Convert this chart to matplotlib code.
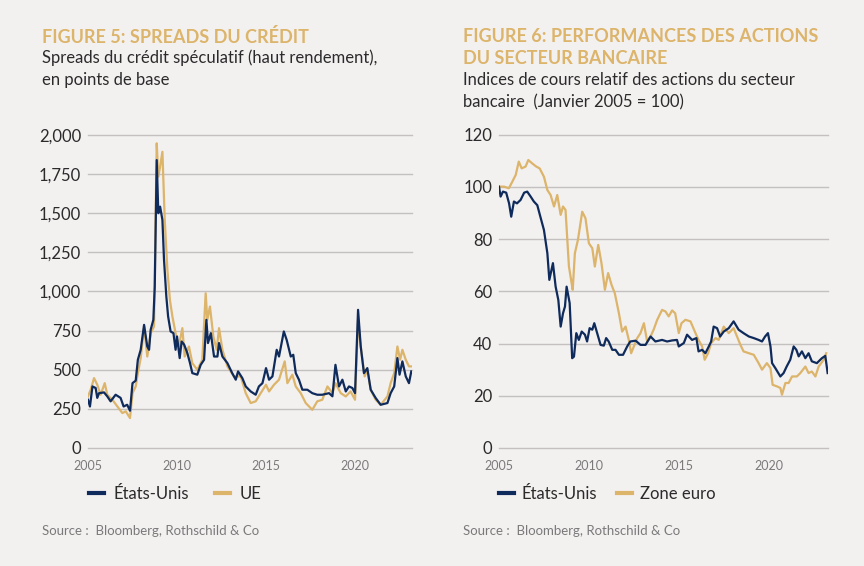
import numpy as np
import matplotlib
matplotlib.use("Agg")
import matplotlib.pyplot as plt
from matplotlib.lines import Line2D

# --- Figure 5 : spreads du crédit (points de base) ---
us_spread_t = [2005.0, 2005.11, 2005.25, 2005.43, 2005.52, 2005.62, 2005.9, 2006.08, 2006.27,
               2006.55, 2006.83, 2007.0, 2007.2, 2007.36, 2007.5, 2007.68, 2007.8, 2007.96,
               2008.15, 2008.33, 2008.43, 2008.52, 2008.67, 2008.75, 2008.86, 2008.95, 2009.05,
               2009.18, 2009.27, 2009.4, 2009.5, 2009.64, 2009.8, 2009.92, 2010.0, 2010.15,
               2010.26, 2010.4, 2010.58, 2010.73, 2010.86, 2011.14, 2011.33, 2011.52, 2011.65,
               2011.74, 2011.9, 2012.08, 2012.27, 2012.36, 2012.55, 2012.83, 2013.1, 2013.3,
               2013.43, 2013.67, 2013.86, 2014.14, 2014.42, 2014.6, 2014.8, 2015.0, 2015.17,
               2015.36, 2015.6, 2015.73, 2016.0, 2016.16, 2016.39, 2016.53, 2016.67, 2016.85,
               2017.04, 2017.32, 2017.6, 2017.88, 2018.16, 2018.54, 2018.73, 2018.9, 2019.1,
               2019.29, 2019.48, 2019.66, 2019.85, 2020.0, 2020.17, 2020.32, 2020.5, 2020.69,
               2020.88, 2021.16, 2021.44, 2021.82, 2022.0, 2022.2, 2022.38, 2022.5, 2022.66,
               2022.85, 2023.03, 2023.16]
us_spread = [308, 265, 393, 383, 320, 350, 355, 330, 298,
             340, 320, 265, 276, 238, 414, 430, 563, 627,
             786, 648, 627, 755, 818, 1031, 1838, 1499, 1541,
             1456, 1201, 967, 840, 744, 733, 627, 712, 574,
             680, 660, 606, 542, 478, 468, 531, 563, 818,
             670, 733, 584, 584, 670, 584, 542, 478, 436,
             489, 446, 393, 361, 340, 393, 414, 510, 436,
             457, 627, 584, 744, 690, 584, 595, 478, 436,
             372, 372, 350, 340, 340, 350, 330, 531, 393,
             436, 361, 393, 383, 350, 882, 648, 478, 510,
             372, 319, 276, 287, 350, 393, 574, 468, 553,
             457, 414, 489]

ue_spread_t = [2005.0, 2005.15, 2005.34, 2005.52, 2005.71, 2005.94, 2006.08, 2006.37, 2006.65,
               2006.93, 2007.12, 2007.36, 2007.5, 2007.68, 2007.8, 2007.96, 2008.15, 2008.33,
               2008.52, 2008.71, 2008.86, 2008.95, 2009.05, 2009.18, 2009.31, 2009.46, 2009.6,
               2009.74, 2009.92, 2010.1, 2010.3, 2010.43, 2010.67, 2010.86, 2011.14, 2011.42,
               2011.61, 2011.7, 2011.85, 2012.04, 2012.23, 2012.36, 2012.55, 2012.83, 2013.2,
               2013.58, 2013.86, 2014.14, 2014.42, 2014.7, 2015.0, 2015.17, 2015.45, 2015.73,
               2016.05, 2016.2, 2016.48, 2016.67, 2016.95, 2017.23, 2017.6, 2017.88, 2018.16,
               2018.45, 2018.73, 2018.9, 2019.2, 2019.48, 2019.75, 2020.0, 2020.17, 2020.32,
               2020.54, 2020.69, 2020.88, 2021.16, 2021.44, 2021.82, 2022.0, 2022.2, 2022.38,
               2022.53, 2022.66, 2022.85, 2023.03, 2023.16]
ue_spread = [329, 372, 446, 404, 340, 414, 340, 308, 265,
             223, 234, 191, 350, 393, 478, 574, 776, 584,
             733, 776, 1945, 1732, 1796, 1891, 1456, 1137, 946,
             840, 733, 648, 765, 584, 648, 542, 499, 563,
             988, 818, 903, 712, 627, 765, 627, 521, 457,
             457, 350, 287, 298, 350, 404, 361, 404, 436,
             553, 414, 468, 393, 350, 287, 244, 298, 308,
             393, 350, 414, 350, 329, 361, 308, 818, 648,
             457, 499, 372, 308, 276, 329, 414, 478, 648,
             563, 627, 563, 521, 521]

# --- Figure 6 : actions du secteur bancaire (janvier 2005 = 100) ---
us_bank_t = [2005.0, 2005.09, 2005.22, 2005.4, 2005.56, 2005.68, 2005.83, 2006.0, 2006.2,
             2006.4, 2006.57, 2006.76, 2006.94, 2007.13, 2007.3, 2007.5, 2007.69, 2007.8,
             2008.0, 2008.15, 2008.3, 2008.43, 2008.56, 2008.67, 2008.76, 2008.93, 2009.07,
             2009.17, 2009.3, 2009.44, 2009.6, 2009.78, 2009.9, 2010.04, 2010.19, 2010.3,
             2010.46, 2010.65, 2010.83, 2010.96, 2011.1, 2011.3, 2011.48, 2011.67, 2011.9,
             2012.13, 2012.3, 2012.6, 2012.87, 2013.15, 2013.43, 2013.7, 2014.07, 2014.35,
             2014.63, 2014.9, 2015.0, 2015.28, 2015.46, 2015.74, 2015.98, 2016.1, 2016.3,
             2016.48, 2016.67, 2016.8, 2016.94, 2017.13, 2017.3, 2017.5, 2017.78, 2018.05,
             2018.33, 2018.6, 2018.9, 2019.17, 2019.44, 2019.63, 2019.8, 2019.96, 2020.1,
             2020.19, 2020.37, 2020.65, 2020.83, 2021.0, 2021.2, 2021.39, 2021.54, 2021.67,
             2021.85, 2022.04, 2022.22, 2022.4, 2022.68, 2022.96, 2023.15, 2023.28]
us_bank = [100.1, 96.3, 98.2, 97.8, 93.7, 88.6, 94.4, 93.7, 95.0,
           97.8, 98.2, 96.3, 94.4, 93.0, 88.6, 83.5, 74.6, 64.4,
           70.8, 61.8, 56.7, 46.5, 51.6, 54.2, 61.8, 55.5, 34.4,
           35.0, 44.0, 41.4, 44.6, 43.4, 40.8, 45.9, 45.3, 47.8,
           44.0, 39.5, 39.2, 42.1, 40.8, 37.6, 37.6, 35.7, 35.7,
           38.9, 40.8, 41.1, 39.5, 39.5, 42.7, 40.8, 41.4, 40.8,
           41.2, 41.4, 38.9, 40.2, 43.4, 41.4, 42.1, 37.0, 37.6,
           36.3, 38.9, 40.8, 46.5, 45.9, 42.7, 44.6, 45.9, 48.5,
           45.3, 44.0, 42.7, 42.1, 41.4, 40.8, 42.7, 44.0, 38.9,
           32.5, 30.6, 27.4, 28.7, 31.2, 33.8, 38.9, 37.6, 35.1,
           37.0, 34.4, 36.3, 33.2, 32.5, 34.4, 35.3, 28.7]

eu_bank_t = [2005.0, 2005.28, 2005.55, 2005.74, 2005.93, 2006.1, 2006.26, 2006.48, 2006.63,
             2006.85, 2007.07, 2007.26, 2007.5, 2007.69, 2007.87, 2008.06, 2008.24, 2008.43,
             2008.56, 2008.7, 2008.89, 2009.04, 2009.1, 2009.22, 2009.39, 2009.63, 2009.81,
             2010.0, 2010.19, 2010.33, 2010.52, 2010.7, 2010.89, 2011.07, 2011.26, 2011.44,
             2011.67, 2011.85, 2012.04, 2012.22, 2012.35, 2012.5, 2012.69, 2012.87, 2013.06,
             2013.24, 2013.43, 2013.6, 2013.8, 2014.07, 2014.26, 2014.44, 2014.63, 2014.8,
             2015.0, 2015.15, 2015.37, 2015.65, 2015.93, 2016.1, 2016.3, 2016.44, 2016.63,
             2016.8, 2017.04, 2017.22, 2017.5, 2017.78, 2018.05, 2018.24, 2018.43, 2018.6,
             2018.9, 2019.17, 2019.44, 2019.63, 2019.9, 2020.1, 2020.22, 2020.46, 2020.65,
             2020.74, 2020.93, 2021.11, 2021.3, 2021.57, 2021.76, 2022.04, 2022.22, 2022.4,
             2022.6, 2022.78, 2023.06, 2023.2]
eu_bank = [100.1, 100.1, 99.5, 102.0, 104.6, 109.7, 107.1, 107.8, 110.3,
           109.0, 107.8, 107.1, 103.9, 98.8, 96.9, 92.5, 96.9, 89.3,
           92.5, 91.2, 69.5, 63.1, 60.6, 74.6, 79.7, 90.5, 88.0,
           78.4, 76.5, 69.5, 77.8, 70.8, 60.6, 67.0, 62.5, 59.3,
           51.6, 44.6, 46.5, 41.4, 36.3, 38.9, 42.1, 44.0, 47.8,
           40.8, 42.7, 45.3, 49.1, 52.9, 52.3, 50.4, 52.7, 51.6,
           44.0, 47.8, 49.1, 48.5, 44.0, 41.4, 38.9, 33.8, 36.3,
           40.2, 42.1, 41.4, 46.5, 44.0, 45.9, 42.7, 39.5, 37.0,
           36.3, 35.7, 32.5, 30.0, 32.5, 30.6, 24.2, 23.6, 23.0,
           20.4, 24.9, 24.9, 27.4, 27.4, 28.7, 31.2, 28.7, 29.3,
           27.4, 31.2, 33.8, 36.3]

year_ticks = [2005, 2010, 2015, 2020]
spread_ticks = [0, 250, 500, 750, 1000, 1250, 1500, 1750, 2000]
bank_ticks = [0, 20, 40, 60, 80, 100, 120]

BG = "#f3f0f0"
NAVY = "#0f2b5b"
GOLD = "#dcb46a"
GRID = "#c4c0bf"
DARK = "#2b2b2b"
GREY = "#7a7a7a"

plt.rcParams["font.family"] = ["Lato", "DejaVu Sans"]

fig = plt.figure(figsize=(8.64, 5.66), dpi=100, facecolor=BG)
W, H = 864, 566


def px_axes(x0, x1, ytop, ybot):
    return fig.add_axes([x0 / W, 1 - ybot / H, (x1 - x0) / W, (ybot - ytop) / H])


def style(ax, yticks, ylabels, xmax):
    ax.set_facecolor(BG)
    for s in ax.spines.values():
        s.set_visible(False)
    ax.set_xlim(2005, xmax)
    ax.set_ylim(yticks[0], yticks[-1])
    ax.set_yticks(yticks)
    ax.set_yticklabels(ylabels, fontsize=12, color=DARK)
    ax.set_xticks(year_ticks)
    ax.set_xticklabels([str(y) for y in year_ticks], fontsize=9, color=GREY)
    ax.tick_params(axis="both", length=0)
    ax.tick_params(axis="y", pad=5)
    ax.tick_params(axis="x", pad=9)
    ax.grid(axis="y", color=GRID, linewidth=1.0)
    ax.set_axisbelow(True)
    for gl in ax.get_ygridlines():
        gl.set_clip_on(False)


# left chart
ax1 = px_axes(88, 412, 134.7, 448)
ax1.plot(ue_spread_t, ue_spread, color=GOLD, lw=1.6)
ax1.plot(us_spread_t, us_spread, color=NAVY, lw=1.6)
style(ax1, spread_ticks, [f"{v:,}" for v in spread_ticks], 2023.2)

# right chart
ax2 = px_axes(499, 828, 134.7, 448)
ax2.plot(eu_bank_t, eu_bank, color=GOLD, lw=1.6)
ax2.plot(us_bank_t, us_bank, color=NAVY, lw=1.6)
style(ax2, bank_ticks, [str(v) for v in bank_ticks], 2023.3)

# titles and subtitles
TSZ, SSZ = 13, 12
fig.text(42 / W, 1 - 37 / H, "FIGURE 5: SPREADS DU CRÉDIT", fontsize=TSZ, fontweight="bold",
         color=GOLD, va="center", ha="left")
fig.text(42 / W, 1 - 58 / H, "Spreads du crédit spéculatif (haut rendement),", fontsize=SSZ,
         color=DARK, va="center", ha="left")
fig.text(42 / W, 1 - 80 / H, "en points de base", fontsize=SSZ, color=DARK, va="center", ha="left")

fig.text(463 / W, 1 - 37 / H, "FIGURE 6: PERFORMANCES DES ACTIONS", fontsize=TSZ, fontweight="bold",
         color=GOLD, va="center", ha="left")
fig.text(463 / W, 1 - 58 / H, "DU SECTEUR BANCAIRE", fontsize=TSZ, fontweight="bold",
         color=GOLD, va="center", ha="left")
fig.text(463 / W, 1 - 80 / H, "Indices de cours relatif des actions du secteur", fontsize=SSZ,
         color=DARK, va="center", ha="left")
fig.text(463 / W, 1 - 102 / H, "bancaire  (Janvier 2005 = 100)", fontsize=SSZ, color=DARK,
         va="center", ha="left")

# legends
def legend_at(labels, x_px, gap, pad):
    handles = [Line2D([], [], color=NAVY, lw=3), Line2D([], [], color=GOLD, lw=3)]
    fig.legend(handles, labels, loc="center left", bbox_to_anchor=(x_px / W, 1 - 494 / H),
               ncol=2, frameon=False, fontsize=12, handlelength=0.9, handletextpad=pad,
               columnspacing=gap, borderaxespad=0, borderpad=0, labelcolor=DARK)


legend_at(["États-Unis", "UE"], 89, 1.6, 0.55)
legend_at(["États-Unis", "Zone euro"], 499, 1.2, 0.45)

# sources
fig.text(42 / W, 1 - 531 / H, "Source :  Bloomberg, Rothschild & Co", fontsize=9.5, color=GREY,
         va="center", ha="left")
fig.text(463 / W, 1 - 531 / H, "Source :  Bloomberg, Rothschild & Co", fontsize=9.5, color=GREY,
         va="center", ha="left")

fig.savefig("out.png", dpi=100, facecolor=BG)
